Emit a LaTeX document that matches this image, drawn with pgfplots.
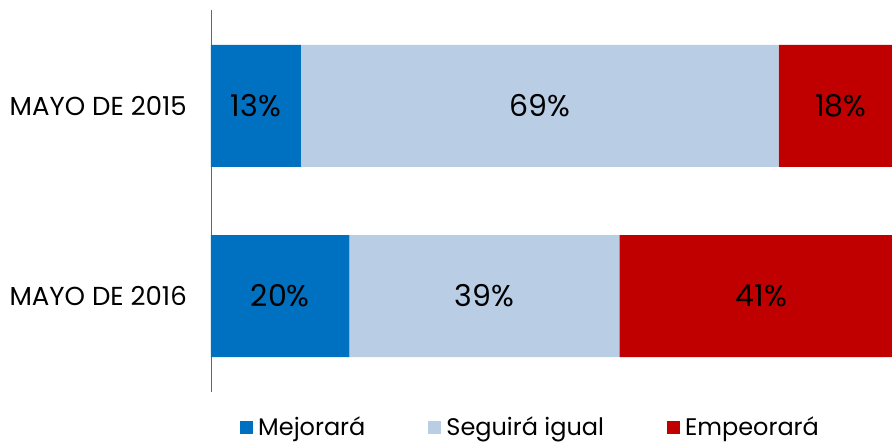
\documentclass[border=0pt]{standalone}
\usepackage{pgfplots}
\pgfplotsset{compat=1.18}
\usepackage{fontspec}
\setmainfont{Poppins}
\definecolor{cMej}{HTML}{0070C0}
\definecolor{cSeg}{HTML}{B9CDE5}
\definecolor{cEmp}{HTML}{C00000}
\pgfplotsset{
  base/.style={
    scale only axis,
    width=681pt, height=382pt,
    xmin=0, xmax=98.4,
    ymin=-0.505, ymax=1.505,
  }
}
\begin{document}
\begin{tikzpicture}
\begin{axis}[
  base,
  xbar stacked,
  bar width=0.642,
  axis x line=none,
  axis y line*=left,
  y axis line style={draw=gray!80!black, line width=0.8pt},
  ytick={0,1},
  yticklabels={MAYO DE 2016, MAYO DE 2015},
  major tick length=0pt,
  yticklabel style={font=\fontsize{26}{30}\selectfont, inner sep=0pt, xshift=-24pt},
  legend columns=3,
  legend style={at={(0.0426,-0.059)}, anchor=north west, draw=none, inner sep=0pt,
     font=\fontsize{24}{28}\selectfont,
     /tikz/every odd column/.append style={column sep=3pt},
     /tikz/every even column/.append style={column sep=61pt}},
  legend image code/.code={\fill[#1] (0pt,-7pt) rectangle (13pt,6pt);},
]
\addplot[fill=cMej, draw=none] coordinates {(13,1) (20,0)};
\addplot[fill=cSeg, draw=none] coordinates {(69,1) (39,0)};
\addplot[fill=cEmp, draw=none] coordinates {(18,1) (41,0)};
\legend{Mejorará, Seguirá igual, Empeorará}
\end{axis}
\begin{axis}[
  base,
  hide axis,
  clip=false,
]
\addplot[draw=none, mark=none, nodes near coords, point meta=explicit symbolic,
  every node near coord/.style={anchor=center, font=\fontsize{30}{34}\selectfont, text=black}]
  coordinates {
  (6.5,1) [13\%] (47.5,1) [69\%] (91,1) [18\%]
  (10,0) [20\%] (39.5,0) [39\%] (79.5,0) [41\%]
  };
\end{axis}
\pgfresetboundingbox
\path[use as bounding box] ([shift={(-211pt,-50pt)}]current axis.south west) rectangle ([shift={(0pt,10pt)}]current axis.north east);
\end{tikzpicture}
\end{document}
